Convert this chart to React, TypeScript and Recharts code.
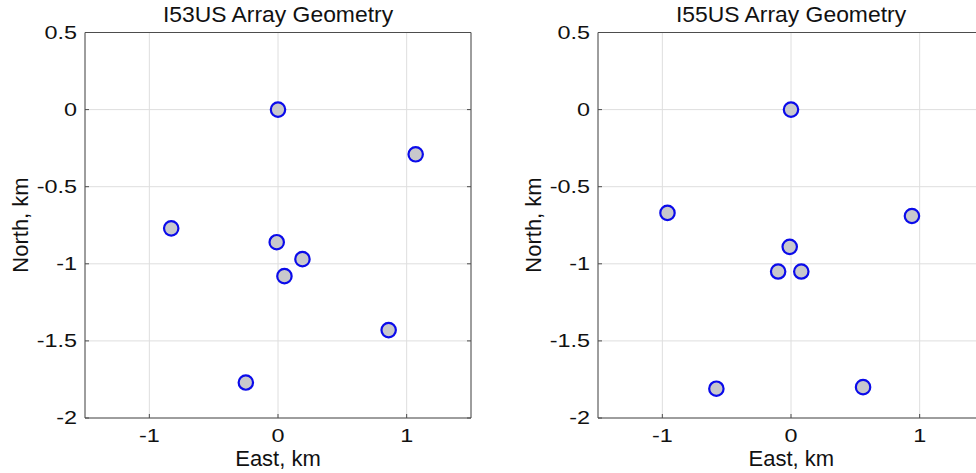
import React from "react";
import { ScatterChart, Scatter, XAxis, YAxis, CartesianGrid } from "recharts";

// tick positions, km
const xTicks = [-1, 0, 1];
const yTicks = [-2, -1.5, -1, -0.5, 0, 0.5];

// I53US element offsets (east, north), km
const i53East = [0, 1.07, -0.83, -0.01, 0.19, 0.05, 0.86, -0.25];
const i53North = [0, -0.29, -0.77, -0.86, -0.97, -1.08, -1.43, -1.77];

// I55US element offsets (east, north), km
const i55East = [0, -0.96, 0.94, -0.01, -0.1, 0.08, -0.58, 0.56];
const i55North = [0, -0.67, -0.69, -0.89, -1.05, -1.05, -1.81, -1.8];

const font = '"Liberation Sans", Arial, Helvetica, sans-serif';
const axisColor = "#4d4d4d";

const YTick = ({ x, y, payload }: any) => (
  <text
    transform={`translate(${x},${y}) scale(1.3,1)`}
    textAnchor="end"
    dy="0.36em"
    fontSize={18}
    fontFamily={font}
    fill="#111"
  >
    {payload.value}
  </text>
);

const XTick = ({ x, y, payload }: any) => (
  <text
    transform={`translate(${x},${y + 12}) scale(1.3,1)`}
    textAnchor="middle"
    fontSize={18}
    fontFamily={font}
    fill="#111"
  >
    {payload.value}
  </text>
);

const NoTick = () => <g />;

const Marker = (props: any) => (
  <circle cx={props.cx} cy={props.cy} r={7.2} fill="#c8c8cc" stroke="#0b0bea" strokeWidth={2.2} />
);

function Panel({ left, title, east, north }: { left: number; title: string; east: number[]; north: number[] }) {
  const data = east.map((e, i) => ({ east: e, north: north[i] }));
  const textStyle: React.CSSProperties = {
    position: "absolute",
    fontFamily: font,
    fontSize: 22,
    lineHeight: "22px",
    whiteSpace: "nowrap",
    color: "#111",
  };
  return (
    <div style={{ position: "absolute", left, top: 0, width: 490, height: 473 }}>
      <ScatterChart width={490} height={473} margin={{ top: 31.5, right: 18, bottom: 0, left: 0 }}>
        <CartesianGrid stroke="#dedede" />
        <XAxis
          type="number"
          dataKey="east"
          domain={[-1.5, 1.5]}
          ticks={xTicks}
          allowDataOverflow
          height={55}
          stroke={axisColor}
          tickSize={-4}
          tickMargin={16}
          tick={<XTick />}
        />
        <XAxis
          xAxisId="top"
          orientation="top"
          type="number"
          domain={[-1.5, 1.5]}
          ticks={xTicks}
          allowDataOverflow
          height={1}
          stroke={axisColor}
          tickSize={-4}
          tick={NoTick}
        />
        <YAxis
          type="number"
          dataKey="north"
          domain={[-2, 0.5]}
          ticks={yTicks}
          allowDataOverflow
          width={85}
          stroke={axisColor}
          tickSize={-4}
          tickMargin={12}
          tick={<YTick />}
        />
        <YAxis
          yAxisId="right"
          orientation="right"
          type="number"
          domain={[-2, 0.5]}
          ticks={yTicks}
          allowDataOverflow
          width={1}
          stroke={axisColor}
          tickSize={-4}
          tick={NoTick}
        />
        <Scatter data={data} shape={Marker} isAnimationActive={false} />
      </ScatterChart>
      <div style={{ ...textStyle, left: 278, top: 4.4, transform: "translateX(-50%) scaleX(1.04)" }}>{title}</div>
      <div style={{ ...textStyle, left: 278, top: 450.9, lineHeight: "16px", transform: "translateX(-50%)" }}>
        East, km
      </div>
      <div style={{ ...textStyle, left: 21, top: 225, transform: "translate(-50%,-50%) rotate(-90deg)" }}>
        North, km
      </div>
    </div>
  );
}

export default function App() {
  return (
    <div
      style={{
        position: "absolute",
        left: 0,
        top: 0,
        width: 976,
        height: 473,
        overflow: "hidden",
        background: "#fff",
      }}
    >
      <Panel left={0} title="I53US Array Geometry" east={i53East} north={i53North} />
      <Panel left={513.3} title="I55US Array Geometry" east={i55East} north={i55North} />
    </div>
  );
}
